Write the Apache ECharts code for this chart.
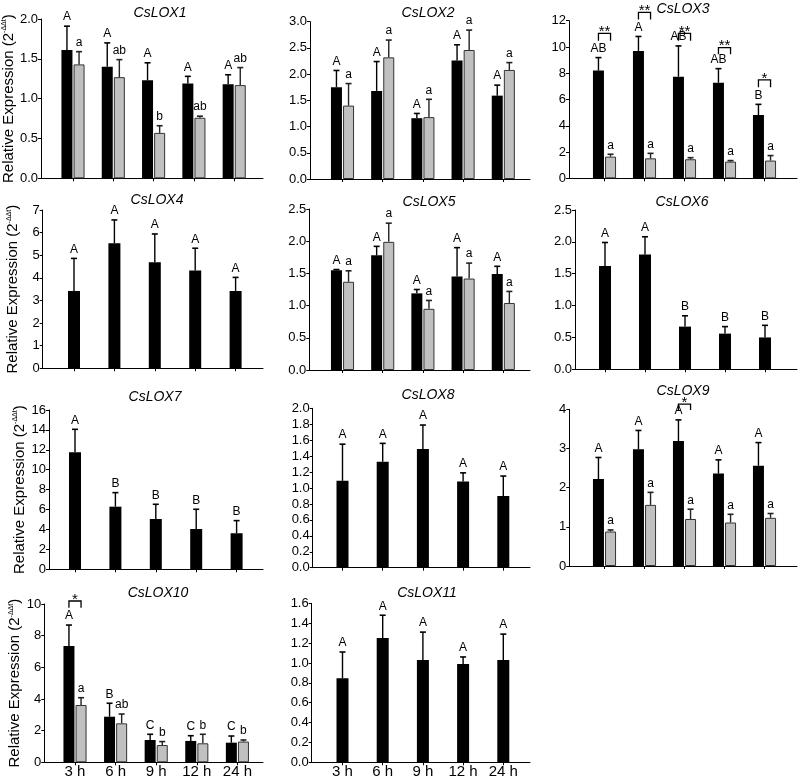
<!DOCTYPE html>
<html><head><meta charset="utf-8">
<script src="https://cdn.jsdelivr.net/npm/echarts@6/dist/echarts.min.js"></script>
<style>html,body{margin:0;padding:0;background:#fff}#c{width:800px;height:781px}</style>
</head><body><div id="c"></div><script>
const categories = ['3 h','6 h','9 h','12 h','24 h'];

// CsLOX1
const lox1Black = [1.61,1.40,1.23,1.19,1.18];
const lox1BlackSD = [0.30,0.30,0.22,0.09,0.12];
const lox1BlackLetters = ['A','A','A','A','A'];
const lox1Gray = [1.43,1.27,0.57,0.76,1.17];
const lox1GraySD = [0.16,0.22,0.09,0.02,0.22];
const lox1GrayLetters = ['a','ab','b','ab','ab'];
// CsLOX2
const lox2Black = [1.75,1.68,1.16,2.26,1.59];
const lox2BlackSD = [0.32,0.56,0.09,0.30,0.20];
const lox2BlackLetters = ['A','A','A','A','A'];
const lox2Gray = [1.40,2.32,1.18,2.46,2.08];
const lox2GraySD = [0.42,0.33,0.34,0.38,0.14];
const lox2GrayLetters = ['a','a','a','a','a'];
// CsLOX3
const lox3Black = [8.2,9.7,7.74,7.28,4.82];
const lox3BlackSD = [0.99,1.10,2.34,1.07,0.81];
const lox3BlackLetters = ['AB','A','AB','AB','B'];
const lox3Gray = [1.65,1.52,1.45,1.27,1.35];
const lox3GraySD = [0.18,0.38,0.12,0.08,0.38];
const lox3GrayLetters = ['a','a','a','a','a'];
const lox3BracketIdx = [0,1,2,3,4];
const lox3BracketTop = [11.04,12.64,11.04,9.95,7.49];
const lox3BracketLeg = [10.48,12.1,10.48,9.44,6.93];
const lox3BracketMark = ['**','**','**','**','*'];
// CsLOX4
const lox4Black = [3.42,5.53,4.69,4.32,3.42];
const lox4BlackSD = [1.44,1.03,1.25,0.99,0.60];
const lox4BlackLetters = ['A','A','A','A','A'];
// CsLOX5
const lox5Black = [1.55,1.78,1.19,1.45,1.49];
const lox5BlackSD = [0.01,0.14,0.06,0.45,0.12];
const lox5BlackLetters = ['A','A','A','A','A'];
const lox5Gray = [1.37,1.99,0.95,1.42,1.04];
const lox5GraySD = [0.17,0.29,0.13,0.24,0.18];
const lox5GrayLetters = ['a','a','a','a','a'];
// CsLOX6
const lox6Black = [1.62,1.80,0.67,0.56,0.50];
const lox6BlackSD = [0.37,0.28,0.17,0.11,0.19];
const lox6BlackLetters = ['A','A','B','B','B'];
// CsLOX7
const lox7Black = [11.75,6.29,5.05,4.05,3.62];
const lox7BlackSD = [2.31,1.41,1.48,1.98,1.27];
const lox7BlackLetters = ['A','B','B','B','B'];
// CsLOX8
const lox8Black = [1.09,1.33,1.49,1.08,0.90];
const lox8BlackSD = [0.46,0.23,0.30,0.11,0.25];
const lox8BlackLetters = ['A','A','A','A','A'];
// CsLOX9
const lox9Black = [2.22,2.98,3.19,2.36,2.56];
const lox9BlackSD = [0.55,0.48,0.54,0.35,0.59];
const lox9BlackLetters = ['A','A','A','A','A'];
const lox9Gray = [0.88,1.56,1.20,1.11,1.23];
const lox9GraySD = [0.04,0.32,0.25,0.21,0.11];
const lox9GrayLetters = ['a','a','a','a','a'];
const lox9BracketIdx = [2];
const lox9BracketTop = [4.13];
const lox9BracketLeg = [3.98];
const lox9BracketMark = ['*'];
// CsLOX10
const lox10Black = [7.35,2.88,1.41,1.35,1.24];
const lox10BlackSD = [1.32,0.85,0.36,0.33,0.42];
const lox10BlackLetters = ['A','B','C','C','C'];
const lox10Gray = [3.62,2.46,1.09,1.20,1.31];
const lox10GraySD = [0.46,0.59,0.22,0.57,0.10];
const lox10GrayLetters = ['a','ab','b','b','b'];
const lox10BracketIdx = [0];
const lox10BracketTop = [10.19];
const lox10BracketLeg = [9.77];
const lox10BracketMark = ['*'];
// CsLOX11
const lox11Black = [0.845,1.25,1.03,0.99,1.03];
const lox11BlackSD = [0.265,0.23,0.28,0.07,0.26];
const lox11BlackLetters = ['A','A','A','A','A'];

// y-axis ranges
const yMax = [2, 3, 12, 7, 2.5, 2.5, 16, 2, 4, 10, 1.6];
const yStep = [0.5, 0.5, 2, 1, 0.5, 0.5, 2, 0.2, 1, 2, 0.2];
const yDec = [1, 1, 0, 0, 1, 1, 0, 1, 0, 0, 1];
const titles = ['CsLOX1','CsLOX2','CsLOX3','CsLOX4','CsLOX5','CsLOX6','CsLOX7','CsLOX8','CsLOX9','CsLOX10','CsLOX11'];

const panels = [
  {black:lox1Black, bSD:lox1BlackSD, bL:lox1BlackLetters, gray:lox1Gray, gSD:lox1GraySD, gL:lox1GrayLetters},
  {black:lox2Black, bSD:lox2BlackSD, bL:lox2BlackLetters, gray:lox2Gray, gSD:lox2GraySD, gL:lox2GrayLetters},
  {black:lox3Black, bSD:lox3BlackSD, bL:lox3BlackLetters, gray:lox3Gray, gSD:lox3GraySD, gL:lox3GrayLetters,
   br:{idx:lox3BracketIdx, top:lox3BracketTop, leg:lox3BracketLeg, mark:lox3BracketMark}},
  {black:lox4Black, bSD:lox4BlackSD, bL:lox4BlackLetters},
  {black:lox5Black, bSD:lox5BlackSD, bL:lox5BlackLetters, gray:lox5Gray, gSD:lox5GraySD, gL:lox5GrayLetters},
  {black:lox6Black, bSD:lox6BlackSD, bL:lox6BlackLetters},
  {black:lox7Black, bSD:lox7BlackSD, bL:lox7BlackLetters},
  {black:lox8Black, bSD:lox8BlackSD, bL:lox8BlackLetters},
  {black:lox9Black, bSD:lox9BlackSD, bL:lox9BlackLetters, gray:lox9Gray, gSD:lox9GraySD, gL:lox9GrayLetters,
   br:{idx:lox9BracketIdx, top:lox9BracketTop, leg:lox9BracketLeg, mark:lox9BracketMark}},
  {black:lox10Black, bSD:lox10BlackSD, bL:lox10BlackLetters, gray:lox10Gray, gSD:lox10GraySD, gL:lox10GrayLetters,
   br:{idx:lox10BracketIdx, top:lox10BracketTop, leg:lox10BracketLeg, mark:lox10BracketMark}},
  {black:lox11Black, bSD:lox11BlackSD, bL:lox11BlackLetters}
];

// layout: [left, right, top, zeroY, firstCenter, spacing, titleX, titleY, col, bottomRow]
const layout = [
  [41, 263, 19, 178.3, 73, 40.3, 160, 13, 0, false],
  [310, 530, 21.7, 179, 342.5, 40.2, 428, 13, 1, false],
  [569, 797, 20.7, 178.3, 604.5, 40, 683, 9, 2, false],
  [42.7, 263, 210, 368.3, 74, 40.4, 157, 200, 0, false],
  [309.3, 530, 209, 370, 342.5, 40.2, 429, 202, 1, false],
  [575, 797, 210, 369.3, 605, 40, 682, 202, 2, false],
  [49, 263, 410, 569.3, 75, 40.4, 155, 397, 0, false],
  [312.7, 530, 408.3, 567.7, 342.5, 40.2, 428, 395, 1, false],
  [569.3, 797, 409.3, 566, 604.5, 40, 683, 391, 2, false],
  [44.3, 263, 604, 762.3, 75, 40.6, 158, 593, 0, true],
  [311.7, 530, 603.3, 762.3, 342.5, 40.2, 427, 593, 1, true]
];

const FONT = '"Liberation Sans", Arial, sans-serif';
const ticksAt = [1,2,3,4,5];
const grids = [], xAxes = [], yAxes = [], series = [], graphics = [];

function errRender(letters, dx, color) {
  return function (params, api) {
    const k = params.dataIndex;
    const p0 = api.coord([api.value(0), api.value(1)]);
    const p1 = api.coord([api.value(0), api.value(2)]);
    const x = p0[0] + dx;
    return {type:'group', children:[
      {type:'line', shape:{x1:x, y1:p0[1], x2:x, y2:p1[1]}, style:{stroke:color, lineWidth:1.4}},
      {type:'line', shape:{x1:x-3, y1:p1[1], x2:x+3, y2:p1[1]}, style:{stroke:color, lineWidth:1.6}},
      {type:'text', x:x, y:p1[1]-3, style:{text:letters[k], align:'center', verticalAlign:'bottom',
        fontSize:12, fontFamily:FONT, fill:'#000'}}
    ]};
  };
}
function bracketRender(marks, half) {
  return function (params, api) {
    const k = params.dataIndex;
    const pt = api.coord([api.value(0), api.value(1)]);
    const pl = api.coord([api.value(0), api.value(2)]);
    const xl = pt[0] - half, xr = pt[0] + half;
    return {type:'group', children:[
      {type:'polyline', shape:{points:[[xl,pl[1]],[xl,pt[1]],[xr,pt[1]],[xr,pl[1]]]},
        style:{stroke:'#000', lineWidth:1.3, fill:null}},
      {type:'text', x:pt[0], y:pt[1]+6, style:{text:marks[k], align:'center', verticalAlign:'bottom',
        fontSize:15, fontFamily:FONT, fill:'#000'}}
    ]};
  };
}

panels.forEach((p, i) => {
  const L = layout[i];
  const [left, right, top, zeroY, c1, sp, tx, ty, col, bottomRow] = L;
  const xMin = 1 - (c1 - left) / sp;
  const xMax = 5 + (right - c1 - 4 * sp) / sp;
  grids.push({left:left, top:top, width:right-left, height:zeroY-top});
  xAxes.push({
    gridIndex:i, type:'value', min:xMin, max:xMax,
    axisLine:{show:true, onZero:false, lineStyle:{color:'#000', width:1}},
    axisTick:{show:true, customValues:ticksAt, length:3, lineStyle:{color:'#000'}},
    axisLabel:{show:bottomRow, customValues:ticksAt, formatter:v => categories[Math.round(v)-1],
      fontSize:15, color:'#000', fontFamily:FONT, margin:2},
    splitLine:{show:false}
  });
  const ya = {
    gridIndex:i, type:'value', min:0, max:yMax[i], interval:yStep[i],
    axisLine:{show:true, onZero:false, lineStyle:{color:'#000', width:1}},
    axisTick:{show:true, length:3, lineStyle:{color:'#000'}},
    axisLabel:{formatter:v => v.toFixed(yDec[i]), fontSize:13, color:'#000', fontFamily:FONT, margin:3},
    splitLine:{show:false}
  };
  if (col === 0) {
    ya.name = '{n|Relative Expression (2}{s|-ΔΔt}{n|)}';
    ya.nameLocation = 'middle';
    ya.nameGap = 22;
    ya.nameTextStyle = {rich:{
      n:{fontSize:15, fontFamily:FONT, color:'#000'},
      s:{fontSize:7, fontFamily:FONT, color:'#000', verticalAlign:'top', padding:[0,0,8,0]}
    }};
  }
  yAxes.push(ya);
  graphics.push({type:'text', x:tx, y:ty, style:{text:titles[i], align:'center', verticalAlign:'middle',
    fontSize:14, fontStyle:'italic', fontFamily:FONT, fill:'#000'}});

  const paired = !!p.gray;
  const bw = paired ? 11 : 12;
  const off = paired ? 6.05 : 0;
  series.push({type:'bar', xAxisIndex:i, yAxisIndex:i, barWidth:bw, barGap:'10%',
    data:p.black.map((v,k)=>[k+1, v]), itemStyle:{color:'#000'}, silent:true, animation:false});
  if (paired) {
    series.push({type:'bar', xAxisIndex:i, yAxisIndex:i, barWidth:bw, barGap:'10%',
      data:p.gray.map((v,k)=>[k+1, v]), itemStyle:{color:'#c0c0c0', borderColor:'#333', borderWidth:1},
      silent:true, animation:false});
  }
  series.push({type:'custom', xAxisIndex:i, yAxisIndex:i, clip:false, animation:false, silent:true, z:5,
    data:p.black.map((v,k)=>[k+1, v, v+p.bSD[k]]), renderItem:errRender(p.bL, -off, '#000')});
  if (paired) {
    series.push({type:'custom', xAxisIndex:i, yAxisIndex:i, clip:false, animation:false, silent:true, z:5,
      data:p.gray.map((v,k)=>[k+1, v, v+p.gSD[k]]), renderItem:errRender(p.gL, off, '#222')});
  }
  if (p.br) {
    series.push({type:'custom', xAxisIndex:i, yAxisIndex:i, clip:false, animation:false, silent:true, z:6,
      data:p.br.idx.map((k,j)=>[k+1, p.br.top[j], p.br.leg[j]]), renderItem:bracketRender(p.br.mark, off)});
  }
});

const chart = echarts.init(document.getElementById('c'), null, {renderer:'canvas'});
chart.setOption({
  animation:false,
  backgroundColor:'#fff',
  grid:grids, xAxis:xAxes, yAxis:yAxes, series:series,
  graphic:graphics
});
</script></body></html>
